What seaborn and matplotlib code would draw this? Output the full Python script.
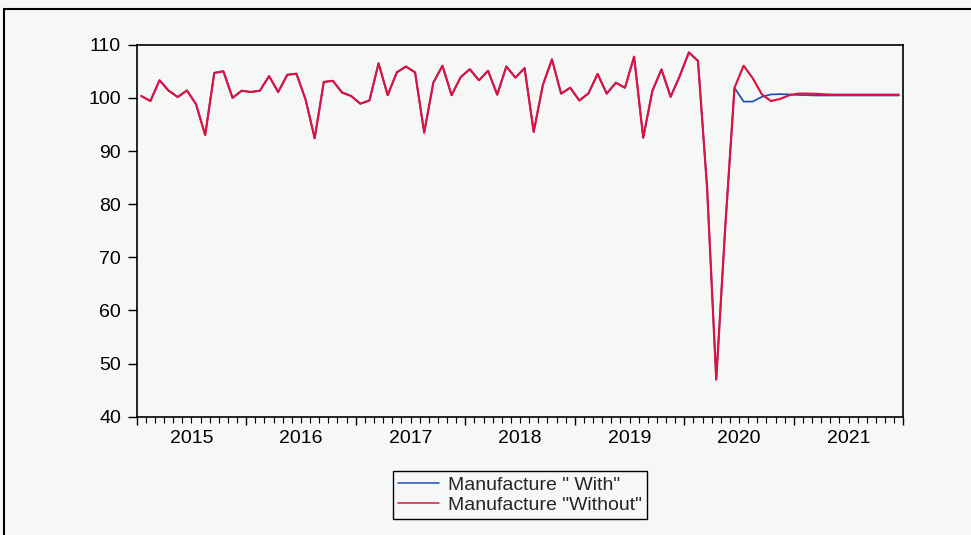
import numpy as np
import pandas as pd
import matplotlib
matplotlib.use("Agg")
import matplotlib.pyplot as plt
from matplotlib.lines import Line2D
import seaborn as sns

# Monthly manufacturing index, Jan 2015 - Dec 2021
years = [2015, 2016, 2017, 2018, 2019, 2020, 2021]

# observed values shared by both series (Jan 2015 - Jun 2020)
history = [
    100.35, 99.4, 103.3, 101.35, 100.15, 101.4, 98.8, 93.0, 104.7, 105.0, 100.0, 101.35,
    101.1, 101.35, 104.1, 101.1, 104.35, 104.55, 99.7, 92.4, 103.0, 103.2, 101.0, 100.35,
    98.9, 99.5, 106.5, 100.5, 104.8, 105.9, 104.8, 93.45, 102.85, 106.05, 100.5, 103.9,
    105.4, 103.3, 105.1, 100.6, 105.9, 103.8, 105.6, 93.6, 102.4, 107.25, 100.8, 101.9,
    99.5, 100.85, 104.5, 100.8, 102.85, 101.9, 107.75, 92.5, 101.3, 105.35, 100.2, 104.1,
    108.55, 106.95, 83.0, 47.0, 76.0, 101.9,
]

# Jul 2020 - Dec 2021 paths
tail_with = [
    99.3, 99.3, 100.2, 100.65, 100.7, 100.65, 100.55, 100.5, 100.45,
    100.45, 100.45, 100.45, 100.45, 100.45, 100.45, 100.45, 100.45, 100.45,
]
tail_without = [
    106.05, 103.7, 100.65, 99.4, 99.8, 100.5, 100.8, 100.8, 100.75,
    100.65, 100.6, 100.6, 100.6, 100.6, 100.6, 100.6, 100.6, 100.6,
]

series_names = ['Manufacture " With"', 'Manufacture "Without"']
series_colors = ["#1F4FB5", "#DE1240"]

n = len(history) + len(tail_with)
pos = np.arange(n) + 0.5  # each month plotted at the middle of its slot
df = pd.DataFrame({
    "pos": np.concatenate([pos, pos]),
    "value": history + tail_with + history + tail_without,
    "series": [series_names[0]] * n + [series_names[1]] * n,
})

BG = "#F6F7F7"
FS = 14
sns.set_theme(style="ticks")
plt.rcParams["font.family"] = ["Liberation Sans", "DejaVu Sans"]

fig = plt.figure(figsize=(9.71, 5.35), dpi=100, facecolor=BG)
ax = fig.add_axes([0.1408, 0.2211, 0.7895, 0.6953])
ax.set_facecolor(BG)

for name, color, lw in zip(series_names, series_colors, [1.25, 1.55]):
    sns.lineplot(data=df[df["series"] == name], x="pos", y="value",
                 color=color, linewidth=lw, ax=ax, legend=False)

ax.set_xlim(0, n)
ax.set_ylim(40, 110)
ax.set_yticks(range(40, 111, 10))
ax.set_xlabel("")
ax.set_ylabel("")

# year boundaries as major ticks, months as minor ticks
ax.set_xticks(np.arange(0, n + 1, 12))
ax.set_xticklabels([])
ax.set_xticks(np.arange(0, n + 1, 1), minor=True)
ax.tick_params(axis="x", which="major", length=6, width=1.0, color="black")
ax.tick_params(axis="x", which="minor", length=4.2, width=0.8, color="black")
ax.tick_params(axis="y", length=6.3, width=1.0, pad=5, labelsize=FS,
               color="black", labelcolor="black")

for sp in ax.spines.values():
    sp.set_color("black")
    sp.set_linewidth(1.2)

# year labels centred under each year
sec = ax.secondary_xaxis("bottom")
sec.set_xticks([6 + 12 * k for k in range(len(years))],
               labels=[str(y) for y in years])
sec.tick_params(length=0, pad=9.3, labelsize=FS, labelcolor="black")
sec.spines["bottom"].set_visible(False)

# outer frame of the graph window
fig.add_artist(Line2D([4 / 971, 4 / 971], [0, 1 - 9 / 535],
                      transform=fig.transFigure, color="black", lw=1.5))
fig.add_artist(Line2D([4 / 971, 1], [1 - 9 / 535, 1 - 9 / 535],
                      transform=fig.transFigure, color="black", lw=1.5))

handles = [Line2D([], [], color=c, lw=1.1) for c in series_colors]
leg = fig.legend(handles, series_names, loc="upper center",
                 bbox_to_anchor=(520 / 971, 1 - 471 / 535), borderaxespad=0,
                 frameon=True, fancybox=False, framealpha=1, facecolor=BG,
                 edgecolor="black", fontsize=FS, handlelength=2.1,
                 handletextpad=0.45, borderpad=0.28, labelspacing=0.12)
leg.get_frame().set_linewidth(1.0)

fig.savefig("out.png", dpi=100, facecolor=BG)
